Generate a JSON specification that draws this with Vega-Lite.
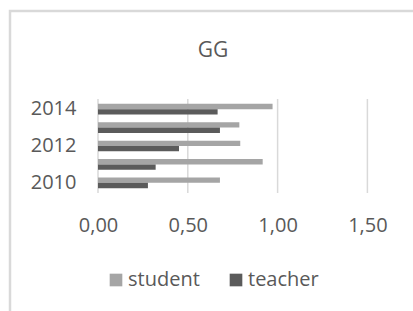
{
  "$schema": "https://vega.github.io/schema/vega-lite/v6.json",
  "width": 403,
  "height": 300,
  "autosize": {"type": "none"},
  "padding": {"left": 10, "top": 11, "right": 0, "bottom": 0},
  "background": "white",
  "title": {
    "text": "GG",
    "orient": "top",
    "anchor": "middle",
    "offset": -67,
    "baseline": "alphabetic",
    "fontSize": 21,
    "fontWeight": "normal",
    "color": "#595959",
    "font": "Open Sans",
    "dx": 1.5
  },
  "datasets": {
    "bars": [
      {"year": 2010, "series": "student", "value": 0.679},
      {"year": 2010, "series": "teacher", "value": 0.278},
      {"year": 2011, "series": "student", "value": 0.917},
      {"year": 2011, "series": "teacher", "value": 0.321},
      {"year": 2012, "series": "student", "value": 0.792},
      {"year": 2012, "series": "teacher", "value": 0.451},
      {"year": 2013, "series": "student", "value": 0.787},
      {"year": 2013, "series": "teacher", "value": 0.679},
      {"year": 2014, "series": "student", "value": 0.972},
      {"year": 2014, "series": "teacher", "value": 0.666}
    ],
    "grid": [{"g": 0}, {"g": 0.5}, {"g": 1}, {"g": 1.5}]
  },
  "layer": [
    {
      "data": {"name": "grid"},
      "mark": {"type": "rule", "color": "#d9d9d9", "strokeWidth": 1.5},
      "encoding": {
        "x": {
          "field": "g",
          "type": "quantitative",
          "scale": {"domain": [0, 1.5], "nice": false, "zero": true, "range": [88, 357.4]},
          "axis": {
            "title": null,
            "values": [0, 0.5, 1, 1.5],
            "labelExpr": "replace(format(datum.value, '.2f'), '.', ',')",
            "labelFlush": false,
            "labelOverlap": false,
            "domain": false,
            "ticks": false,
            "grid": false,
            "offset": -118,
            "labelPadding": 22,
            "labelFont": "Open Sans",
            "labelFontSize": 20,
            "labelColor": "#595959"
          }
        },
        "y": {
          "datum": 0,
          "type": "quantitative",
          "scale": {"domain": [0, 1], "nice": false, "zero": false, "range": [88, 182]},
          "axis": null
        },
        "y2": {"datum": 1}
      }
    },
    {
      "data": {"name": "bars"},
      "mark": {"type": "bar"},
      "encoding": {
        "y": {
          "field": "year",
          "type": "ordinal",
          "sort": "descending",
          "scale": {"range": [88, 182], "paddingInner": 0.42, "paddingOuter": 0.264},
          "axis": {
            "title": null,
            "values": [2014, 2012, 2010],
            "domain": false,
            "ticks": false,
            "grid": false,
            "offset": -88,
            "labelPadding": 22,
            "labelFont": "Open Sans",
            "labelFontSize": 20,
            "labelColor": "#595959"
          }
        },
        "yOffset": {
          "field": "series",
          "type": "nominal",
          "sort": ["student", "teacher"],
          "scale": {"paddingInner": 0, "paddingOuter": 0}
        },
        "x": {
          "field": "value",
          "type": "quantitative",
          "scale": {"domain": [0, 1.5], "nice": false, "zero": true, "range": [88, 357.4]},
          "axis": {
            "title": null,
            "values": [0, 0.5, 1, 1.5],
            "labelExpr": "replace(format(datum.value, '.2f'), '.', ',')",
            "labelFlush": false,
            "labelOverlap": false,
            "domain": false,
            "ticks": false,
            "grid": false,
            "offset": -118,
            "labelPadding": 22,
            "labelFont": "Open Sans",
            "labelFontSize": 20,
            "labelColor": "#595959"
          }
        },
        "color": {
          "field": "series",
          "type": "nominal",
          "sort": ["student", "teacher"],
          "scale": {"domain": ["student", "teacher"], "range": ["#a5a5a5", "#5b5b5b"]},
          "legend": {
            "orient": "none",
            "legendX": 96,
            "legendY": 259,
            "direction": "horizontal",
            "title": null,
            "symbolType": "square",
            "symbolSize": 160,
            "symbolStrokeWidth": 0,
            "labelFont": "Open Sans",
            "labelFontSize": 20,
            "labelColor": "#595959",
            "labelOffset": 2,
            "columnPadding": 26
          }
        }
      }
    }
  ],
  "resolve": {"scale": {"y": "independent"}},
  "config": {
    "view": {"stroke": "#d9d9d9", "strokeWidth": 2.5, "strokeDash": [403, 703, 300]}
  }
}
